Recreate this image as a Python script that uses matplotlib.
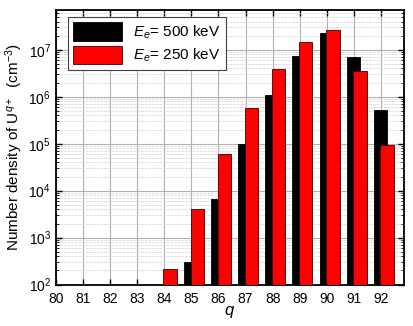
import numpy as np
import matplotlib
matplotlib.use("Agg")
import matplotlib.pyplot as plt
from matplotlib.ticker import LogLocator, NullFormatter

plt.rcParams['font.family'] = ['Liberation Sans', 'DejaVu Sans']
plt.rcParams['mathtext.fontset'] = 'custom'
plt.rcParams['mathtext.rm'] = 'Liberation Sans'
plt.rcParams['mathtext.it'] = 'Liberation Sans:italic'

# charge states and number densities (cm^-3)
q = [84, 85, 86, 87, 88, 89, 90, 91, 92]
dens_500 = [np.nan, 3.0e2, 6.5e3, 1.0e5, 1.1e6, 7.3e6, 2.3e7, 7.0e6, 5.1e5]
dens_250 = [2.1e2, 4.1e3, 6.0e4, 5.9e5, 3.9e6, 1.5e7, 2.7e7, 3.5e6, 9.4e4]
labels = ["$E_e$= 500 keV", "$E_e$= 250 keV"]

fig = plt.figure(figsize=(4.14, 3.26), dpi=100)
ax = fig.add_axes([0.135, 0.127, 0.841, 0.842])

qa = np.array(q)
ax.bar(qa - 0.02, dens_500, width=0.5, color='black', edgecolor='black',
       linewidth=0.6, label=labels[0], zorder=2)
ax.bar(qa + 0.22, dens_250, width=0.5, color='red', edgecolor='#400000',
       linewidth=0.6, label=labels[1], zorder=3)

ax.set_yscale('log')
ax.set_ylim(1e2, 7e7)
ax.set_xlim(80, 92.85)
ax.set_xticks(range(80, 93))
ax.yaxis.set_minor_locator(LogLocator(base=10, subs=np.arange(2, 10)))
ax.yaxis.set_minor_formatter(NullFormatter())

ax.grid(True, which='major', color='#b0b0b0', linewidth=0.8, zorder=0)
ax.grid(True, which='minor', axis='y', color='#d0d0d0', linestyle='--',
        linewidth=0.5, zorder=0)
ax.set_axisbelow(True)

ax.tick_params(which='both', direction='in', top=True, right=True, labelsize=10)
ax.tick_params(which='major', length=4, width=1)
ax.tick_params(which='minor', length=2, width=0.6)
ax.tick_params(axis='x', pad=5)
for s in ax.spines.values():
    s.set_linewidth(1.3)

ax.set_xlabel("$q$", fontsize=12, labelpad=-1)
ax.set_ylabel("Number density of U$^{q+}$  (cm$^{-3}$)", fontsize=11)
ax.yaxis.set_label_coords(-0.09, 0.5)

leg = ax.legend(loc='upper left', bbox_to_anchor=(0.034, 0.975), borderaxespad=0,
                fontsize=11, handlelength=3.2, handleheight=1.5,
                fancybox=False, edgecolor='#404040', framealpha=1,
                borderpad=0.35, labelspacing=0.3, handletextpad=0.75)
leg.get_frame().set_linewidth(0.8)

fig.savefig("out.png", dpi=100)
